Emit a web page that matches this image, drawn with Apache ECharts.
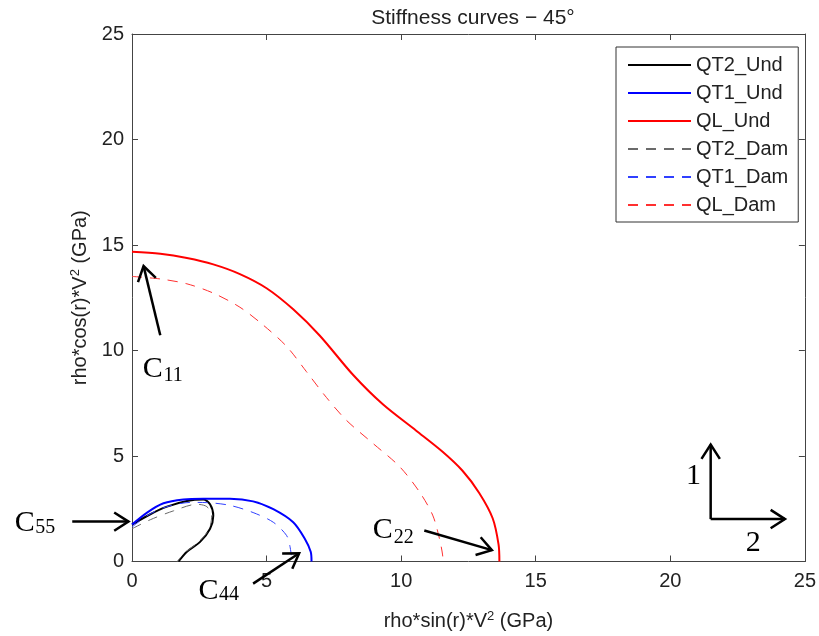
<!DOCTYPE html>
<html>
<head>
<meta charset="utf-8">
<script src="https://cdn.jsdelivr.net/npm/echarts@6/dist/echarts.min.js"></script>
<style>html,body{margin:0;padding:0;background:#fff}#c{width:819px;height:636px}</style>
</head>
<body>
<div id="c"></div>
<script>
// ---- data (x = rho*sin(r)*V^2, y = rho*cos(r)*V^2, GPa) ----
const seriesNames = ['QT2_Und','QT1_Und','QL_Und','QT2_Dam','QT1_Dam','QL_Dam'];
const QT2_Und = [[0,1.75],[0.68,2.24],[1.3,2.6],[2.04,2.87],[2.65,2.94],[2.9,2.71],[3.02,2.17],[2.9,1.55],[2.53,0.93],[2.04,0.46],[1.73,0]];
const QT1_Und = [[0,1.75],[0.56,2.32],[1.17,2.76],[1.91,2.94],[2.65,2.97],[3.64,2.97],[4.5,2.85],[5.25,2.48],[5.99,1.86],[6.42,1.08],[6.64,0.46],[6.67,0]];
const QL_Und = [[0,14.68],[1.05,14.58],[2.04,14.38],[3.02,14.08],[4.01,13.62],[5.0,12.95],[5.99,11.95],[6.98,10.7],[8.21,8.85],[9.32,7.45],[10.56,6.2],[11.54,5.2],[12.28,4.3],[12.9,3.25],[13.4,2.05],[13.62,0.8],[13.65,0]];
const QT2_Dam = [[0,1.55],[0.68,1.98],[1.54,2.4],[2.4,2.71],[2.78,2.6],[2.96,2.17],[2.85,1.5],[2.45,0.9],[1.95,0.4],[1.68,0]];
const QT1_Dam = [[0,1.63],[0.6,2.2],[1.3,2.6],[2.2,2.8],[2.78,2.79],[3.64,2.66],[4.5,2.32],[5.25,1.86],[5.74,1.24],[5.86,0.77],[5.92,0.3]];
const QL_Dam = [[0,13.51],[1.05,13.39],[2.04,13.16],[3.02,12.72],[4.01,12.05],[4.88,11.2],[5.74,10.2],[6.48,9.0],[7.22,7.78],[7.96,6.7],[8.95,5.6],[9.94,4.5],[10.68,3.3],[11.17,2.2],[11.42,1.1],[11.54,0.31],[11.55,0]];
const xTicks = [0,5,10,15,20,25];
const yTicks = [0,5,10,15,20,25];

// annotation arrows (data coords: tail -> tip) and labels
const arrows = [
  [[1.05,10.72],[0.43,14.0]],
  [[10.86,1.47],[13.37,0.54]],
  [[4.5,-1.05],[6.21,0.39]],
  [[-2.22,1.89],[-0.13,1.89]],
  [[21.5,2.01],[21.5,5.54]],
  [[21.5,2.01],[24.26,2.01]]
];
const labels = [
  {main:'C', sub:'11', at:[0.77,9.1], subAt:[1.53,8.82]},
  {main:'C', sub:'22', at:[9.32,1.47], subAt:[10.1,1.14]},
  {main:'C', sub:'44', at:[2.84,-1.39], subAt:[3.6,-1.56]},
  {main:'C', sub:'55', at:[-3.98,1.82], subAt:[-3.22,1.59]},
  {main:'1', sub:'', at:[20.86,4.04]},
  {main:'2', sub:'', at:[23.08,0.88]}
];

const chart = echarts.init(document.getElementById('c'), null, {renderer:'canvas'});
const FONT = 'Liberation Sans, Arial, sans-serif';
const axisCol = '#444';
const supStyle = {fontSize:13, verticalAlign:'top', padding:[0,0,10,0], fontFamily:FONT, color:'#222'};
function mkX(pos, show){
  return {type:'value', min:xTicks[0], max:xTicks[xTicks.length-1], interval:5, position:pos,
    axisLine:{show:true, onZero:false, lineStyle:{color:axisCol, width:1}},
    axisTick:{show:true, inside:true, length:6, lineStyle:{color:axisCol}},
    axisLabel:{show:show, fontSize:20, color:'#222', fontFamily:FONT, margin:10},
    splitLine:{show:false},
    name: show ? 'rho*sin(r)*V{sup|2} (GPa)' : '', nameLocation:'middle', nameGap:48,
    nameTextStyle:{fontSize:20, color:'#222', fontFamily:FONT, rich:{sup:supStyle}}
  };
}
function mkY(pos, show){
  return {type:'value', min:yTicks[0], max:yTicks[yTicks.length-1], interval:5, position:pos,
    axisLine:{show:true, onZero:false, lineStyle:{color:axisCol, width:1}},
    axisTick:{show:true, inside:true, length:6, lineStyle:{color:axisCol}},
    axisLabel:{show:show, fontSize:20, color:'#222', fontFamily:FONT, margin:8},
    splitLine:{show:false},
    name: show ? 'rho*cos(r)*V{sup|2} (GPa)' : '', nameLocation:'middle', nameGap:36,
    nameTextStyle:{fontSize:20, color:'#222', fontFamily:FONT, rich:{sup:supStyle}}
  };
}
const datasets = [QT2_Und, QT1_Und, QL_Und, QT2_Dam, QT1_Dam, QL_Dam];
const colors = ['#000000','#0000ff','#ff0000','#6a6a6a','#3040ff','#ff3030'];
const series = datasets.map((d,i)=>({
  name: seriesNames[i], type:'line', data:d, symbol:'none', smooth:0.3,
  xAxisIndex:0, yAxisIndex:0, z: i<3 ? 3 : 4,
  lineStyle:{color:colors[i], width: i<3 ? 2 : 1, type: i<3 ? 'solid' : [10,8]},
  itemStyle:{color:colors[i]}
}));

chart.setOption({
  animation:false,
  backgroundColor:'#fff',
  title:{text:'Stiffness curves \u2212 45\u00b0', left:468, textAlign:'center', top:3,
    textStyle:{fontSize:21, fontWeight:'normal', color:'#222', fontFamily:FONT}},
  grid:{left:132, right:12, top:34, bottom:66, show:false},
  xAxis:[mkX('bottom', true), mkX('top', false)],
  yAxis:[mkY('left', true), mkY('right', false)],
  legend:{orient:'vertical', left:616, top:47, data:seriesNames,
    backgroundColor:'#fff', borderColor:'#333', borderWidth:1, borderRadius:0,
    padding:[8,10,7,11], itemWidth:63, itemHeight:14, itemGap:8,
    itemStyle:{opacity:0},
    textStyle:{fontSize:20, color:'#222', fontFamily:FONT}, selectedMode:false},
  series: series
});

// annotations positioned through the chart's own coordinate conversion
function px(p){ return chart.convertToPixel({xAxisIndex:0, yAxisIndex:0}, p); }
const g = [];
arrows.forEach(a=>{
  const t = px(a[0]), h = px(a[1]);
  const ang = Math.atan2(h[1]-t[1], h[0]-t[0]);
  const L = 17, A = Math.PI/5.5;
  const p1 = [h[0]-L*Math.cos(ang-A), h[1]-L*Math.sin(ang-A)];
  const p2 = [h[0]-L*Math.cos(ang+A), h[1]-L*Math.sin(ang+A)];
  g.push({type:'line', shape:{x1:t[0],y1:t[1],x2:h[0],y2:h[1]}, style:{stroke:'#000', lineWidth:2.5}, z:100});
  g.push({type:'polyline', shape:{points:[p1,h,p2]}, style:{stroke:'#000', lineWidth:2.5, fill:null}, z:100});
});
labels.forEach(l=>{
  const p = px(l.at);
  g.push({type:'text', x:p[0], y:p[1], z:100, style:{text:l.main, font:'30px "Liberation Serif", "Times New Roman", serif', fill:'#000', align:'center', verticalAlign:'middle', textAlign:'center', textVerticalAlign:'middle'}});
  if(l.sub){
    const s = px(l.subAt);
    g.push({type:'text', x:s[0], y:s[1], z:100, style:{text:l.sub, font:'20px "Liberation Serif", "Times New Roman", serif', fill:'#000', align:'center', verticalAlign:'middle', textAlign:'center', textVerticalAlign:'middle'}});
  }
});
chart.setOption({graphic:g});
</script>
</body>
</html>
